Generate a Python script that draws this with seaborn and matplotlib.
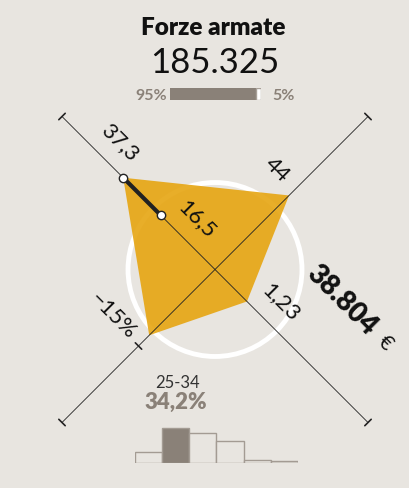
import matplotlib.pyplot as plt
import seaborn as sns
import numpy as np

# dati
titolo = "Forze armate"
totale = "185.325"
quota_uomini = 95
quota_donne = 5

# assi del radar: TL, TR, BR, BL (posizione normalizzata sull'asse)
etichette_radar = ["37,3", "44", "1,23", "\u221215%"]
valori_radar = [0.60, 0.484, 0.209, 0.43]
valore_interno = 0.353
etichetta_interna = "16,5"
raggio_cerchio = 0.402
reddito = "38.804"

# distribuzione per eta
fasce = ["15-24", "25-34", "35-44", "45-54", "55-64", "65+"]
quote = [10.6, 34.2, 29.6, 21.9, 2.4, 1.3]
fascia_top = "25-34"
quota_top = "34,2%"

bg = "#e8e5e0"
arancio = "#e6a511"
grigio = "#8a8178"
nero = "#222222"

sns.set_theme(style="white")
plt.rcParams['font.family'] = ['Lato', 'DejaVu Sans']

fig = plt.figure(figsize=(4.1, 4.89), dpi=100, facecolor=bg)
ax = fig.add_axes([0, 0, 1, 1])
ax.set_facecolor(bg)

cx, cy, R = 215, 270.5, 153
dirs = np.array([[-1, -1], [1, -1], [1, 1], [-1, 1]], dtype=float)

# cerchio di riferimento
ax.add_patch(plt.Circle((cx, cy), raggio_cerchio * R * np.sqrt(2),
                        fill=False, ec='white', lw=3.5, zorder=1))

# poligono
pts = np.array([[cx, cy] + v * R * d for v, d in zip(valori_radar, dirs)])
ax.fill(pts[:, 0], pts[:, 1], color=arancio, alpha=0.9, lw=0, zorder=2)

# diagonali con tacche
for d in dirs[:2]:
    a = np.array([cx, cy]) + R * d
    b = np.array([cx, cy]) - R * d
    ax.plot([a[0], b[0]], [a[1], b[1]], color=nero, lw=0.6, zorder=3)
for d, f in [(dirs[0], 1), (dirs[1], 1), (dirs[2], 1), (dirs[3], 1), (dirs[3], 0.5)]:
    p = np.array([cx, cy]) + f * R * d
    perp = np.array([d[1], -d[0]]) / np.sqrt(2) * 4.5
    ax.plot([p[0] - perp[0], p[0] + perp[0]], [p[1] - perp[1], p[1] + perp[1]],
            color=nero, lw=1.2, zorder=3)

# segmento spesso asse TL
p_out = np.array([cx, cy]) + valori_radar[0] * R * dirs[0]
p_in = np.array([cx, cy]) + valore_interno * R * dirs[0]
sns.lineplot(x=[p_out[0], p_in[0]], y=[p_out[1], p_in[1]], color=nero, lw=3,
             ax=ax, zorder=4, sort=False)
ax.plot([p_out[0], p_in[0]], [p_out[1], p_in[1]], 'o', ms=6, mfc='white',
        mec=nero, mew=1, zorder=5)
ax.set_xlim(0, 410)
ax.set_ylim(489, 0)
ax.axis('off')

# etichette del radar
pos_etichette = [(120, 142), (277, 170), (281, 302), (113, 316)]
for (x, y), t in zip(pos_etichette, etichette_radar):
    ax.text(x, y, t, rotation=-45, rotation_mode='anchor', ha='center',
            va='center', fontsize=16, color='#111111', zorder=6)
ax.text(197, 219, etichetta_interna, rotation=-45, rotation_mode='anchor',
        ha='center', va='center', fontsize=16, color='#111111', zorder=6)
ax.text(342, 300, reddito, rotation=-45, rotation_mode='anchor', ha='center',
        va='center', fontsize=20, fontweight='heavy', color='#111111', zorder=6)
ax.text(385, 343, "\u20ac", rotation=-45, rotation_mode='anchor', ha='center',
        va='center', fontsize=15, color='#111111', zorder=6)

# intestazione
ax.text(213, 28, titolo, ha='center', va='center', fontsize=17.5,
        fontweight='heavy', color='#111111')
ax.text(215, 63, totale, ha='center', va='center', fontsize=25,
        color='#111111')
ax.text(151, 96, f"{quota_uomini}%", ha='center', va='center', fontsize=11.5,
        fontweight='bold', color=grigio)
ax.text(284, 96, f"{quota_donne}%", ha='center', va='center', fontsize=11.5,
        fontweight='bold', color=grigio)

bax = fig.add_axes([170 / 410, 1 - 101 / 489, 91 / 410, 12 / 489])
bax.barh(0, quota_uomini, height=1, color=grigio, lw=0)
bax.barh(0, quota_donne, left=quota_uomini, height=1, color='white',
         ec='#a8a098', lw=1)
bax.set_xlim(0, 100)
bax.set_ylim(-0.5, 0.5)
bax.axis('off')

# istogramma eta
ax.text(178, 383, fascia_top, ha='center', va='center', fontsize=12,
        color='#333333')
ax.text(176, 402, quota_top, ha='center', va='center', fontsize=16,
        fontweight='heavy', color=grigio)

hax = fig.add_axes([135 / 410, 1 - 463.5 / 489, 163 / 410, 45 / 489])
colori = [grigio if f == fascia_top else bg for f in fasce]
sns.barplot(x=fasce, y=quote, hue=fasce, palette=colori, width=1,
            saturation=1, edgecolor='#a39b93', linewidth=1, legend=False,
            ax=hax)
hax.set_xlim(-0.5, len(fasce) - 0.5)
hax.set_ylim(0, 45)
hax.axis('off')

fig.savefig("out.png", dpi=100, facecolor=bg)
